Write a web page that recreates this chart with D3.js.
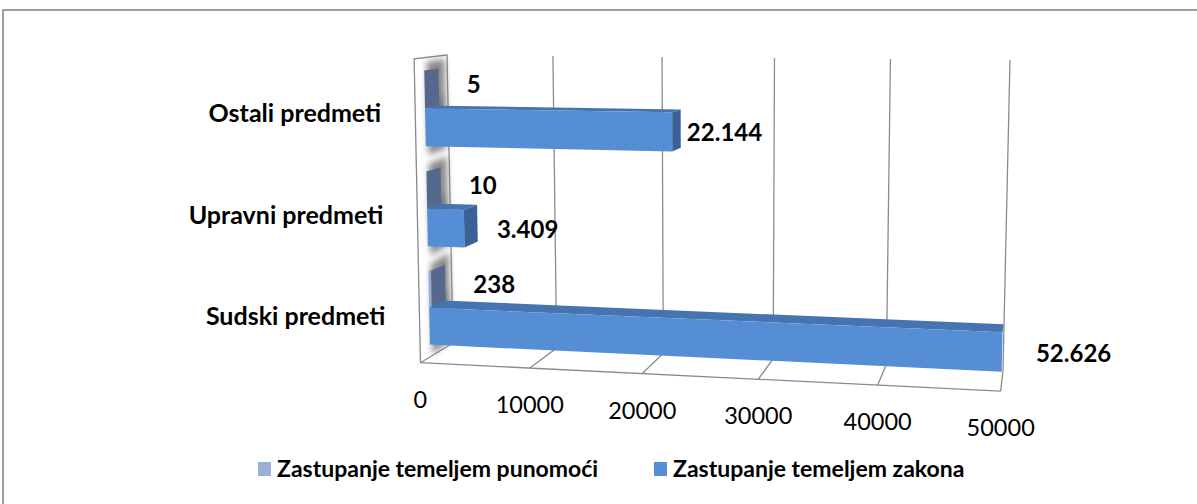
<!DOCTYPE html>
<html>
<head>
<meta charset="utf-8">
<script src="https://cdn.jsdelivr.net/npm/d3@7"></script>
<style>
  html, body { margin: 0; padding: 0; background: #ffffff; }
  svg { display: block; }
  text { font-family: "Lato", "Liberation Sans", sans-serif; fill: #000; }
</style>
</head>
<body>
<svg id="chart" width="1197" height="504"></svg>
<script>
// ---- data ----
const categories = ["Ostali predmeti", "Upravni predmeti", "Sudski predmeti"]; // top to bottom
const seriesNames = ["Zastupanje temeljem punomoći", "Zastupanje temeljem zakona"];
const punomociValues = [5, 10, 238];
const zakonaValues = [22144, 3409, 52626];
const valueTicks = [0, 10000, 20000, 30000, 40000, 50000];

// ---- styling ----
const seriesColors = {
  "Zastupanje temeljem punomoći": { front: "#97acd8", top: "#7e93bd", side: "#56688d", key: "#9bb0d8" },
  "Zastupanje temeljem zakona":   { front: "#558ed5", top: "#4674b0", side: "#3a6296", key: "#558ed5" }
};
const gridColor = "#8a8a8a";

const svg = d3.select("#chart");
const hr = d3.formatLocale({ decimal: ",", thousands: ".", grouping: [3], currency: ["", ""] });
const fmt = hr.format(",d");

// outer chart frame
svg.append("rect")
  .attr("x", 3).attr("y", 10).attr("width", 1300).attr("height", 600)
  .attr("fill", "#fff").attr("stroke", "#878787").attr("stroke-width", 1.6);

// ---- 3D plot box projection ----
// back wall quad (value axis along u, categories along v): TL, TR, BR, BL
const wall = [[447, 55], [1010, 60], [1003, 370], [453, 343]];
const vanish = [1045, -15];   // point the depth lines run towards
const depthGain = 0.055;      // screen growth from back (d=0) to front (d=1)

const homography = (() => {
  const [[x0, y0], [x1, y1], [x2, y2], [x3, y3]] = wall;
  const dx1 = x1 - x2, dx2 = x3 - x2, dx3 = x0 - x1 + x2 - x3;
  const dy1 = y1 - y2, dy2 = y3 - y2, dy3 = y0 - y1 + y2 - y3;
  const den = dx1 * dy2 - dx2 * dy1;
  const g = (dx3 * dy2 - dx2 * dy3) / den;
  const h = (dx1 * dy3 - dx3 * dy1) / den;
  const a = x1 - x0 + g * x1, b = x3 - x0 + h * x3, c = x0;
  const d = y1 - y0 + g * y1, e = y3 - y0 + h * y3, f = y0;
  return (u, v) => {
    const w = g * u + h * v + 1;
    return [(a * u + b * v + c) / w, (d * u + e * v + f) / w];
  };
})();

function project(u, v, d) {
  const [bx, by] = homography(u, v);
  const s = 1 + depthGain * d;
  return [vanish[0] + (bx - vanish[0]) * s, vanish[1] + (by - vanish[1]) * s];
}
const poly = pts => "M" + pts.map(p => p.join(",")).join("L") + "Z";

// scales
const x = d3.scaleLinear().domain([0, 50000]).range([0, 1]).clamp(true);
const y = d3.scaleBand().domain(categories).range([0, 1]).paddingInner(0.25).paddingOuter(0.125);
const ys = d3.scaleBand().domain(seriesNames).range([0, y.bandwidth()]);
const barBack = 0.27, barFront = 0.7;

const defs = svg.append("defs");
defs.append("filter").attr("id", "soft").attr("x", "-50%").attr("y", "-50%").attr("width", "200%").attr("height", "200%")
  .append("feGaussianBlur").attr("stdDeviation", 3.4);

const plot = svg.append("g");

// side wall at value 0
plot.append("path")
  .attr("d", poly([project(0, 0, 0), project(0, 0, 1), project(0, 1, 1), project(0, 1, 0)]))
  .attr("fill", "#fff").attr("stroke", gridColor).attr("stroke-width", 1.3);

// back wall gridlines and floor lines
valueTicks.filter(t => t > 0).forEach(t => {
  const u = x(t);
  plot.append("path")
    .attr("d", "M" + project(u, 0, 0) + "L" + project(u, 1, 0) + "L" + project(u, 1, 1))
    .attr("fill", "none").attr("stroke", gridColor).attr("stroke-width", 1.3);
});
// front floor edge
plot.append("path")
  .attr("d", "M" + project(0, 1, 1) + "L" + project(1, 1, 1))
  .attr("fill", "none").attr("stroke", gridColor).attr("stroke-width", 1.3);

// bar records
const bars = [];
categories.forEach((cat, i) => {
  [[seriesNames[0], punomociValues[i]], [seriesNames[1], zakonaValues[i]]].forEach(([s, val]) => {
    const v0 = y(cat) + ys(s), v1 = v0 + ys.bandwidth();
    bars.push({ cat, s, val, v0, v1, u1: x(val), clipped: val > x.domain()[1] });
  });
});

// soft shadows where the bars meet the side wall
plot.append("g").attr("filter", "url(#soft)")
  .selectAll("path").data(bars).join("path")
  .attr("d", b => poly([
    project(0, b.v0 - 0.03, barBack - 0.2), project(0.012, b.v0 - 0.03, barFront + 0.12),
    project(0.012, b.v1 + 0.025, barFront + 0.12), project(0, b.v1 + 0.025, barBack - 0.2)]))
  .attr("fill", "#767676").attr("opacity", 0.85);

// bars: top face, front face, end face
const barG = plot.append("g").selectAll("g").data(bars).join("g");
barG.append("path")
  .attr("d", b => poly([project(0, b.v0, barBack), project(b.u1, b.v0, barBack), project(b.u1, b.v0, barFront), project(0, b.v0, barFront)]))
  .attr("fill", b => seriesColors[b.s].top);
barG.append("path")
  .attr("d", b => poly([project(0, b.v0, barFront), project(b.u1, b.v0, barFront), project(b.u1, b.v1, barFront), project(0, b.v1, barFront)]))
  .attr("fill", b => seriesColors[b.s].front);
barG.filter(b => !b.clipped).append("path")
  .attr("d", b => poly([project(b.u1, b.v0, barBack), project(b.u1, b.v0, barFront), project(b.u1, b.v1, barFront), project(b.u1, b.v1, barBack)]))
  .attr("fill", b => seriesColors[b.s].side);

// value labels, outside the bar ends
const isSmall = b => b.s === seriesNames[0];
svg.append("g").selectAll("text").data(bars).join("text")
  .attr("x", b => {
    const vc = (b.v0 + b.v1) / 2;
    return project(b.u1, vc, barBack)[0] + (isSmall(b) ? 28 : -3 + 40 * vc);
  })
  .attr("y", b => {
    const vc = (b.v0 + b.v1) / 2;
    return project(b.u1, vc, barFront)[1] + (isSmall(b) ? -5 : 1) + 8.5;
  })
  .attr("font-size", 24).attr("font-weight", 700)
  .text(b => fmt(b.val));

// category labels
svg.append("g").selectAll("text").data(categories).join("text")
  .attr("x", c => project(0, y(c) + y.bandwidth() / 2, 1)[0] - 34)
  .attr("y", c => project(0, y(c) + y.bandwidth() / 2, 1)[1] + 12)
  .attr("text-anchor", "end")
  .attr("font-size", 25).attr("font-weight", 700)
  .text(c => c);

// value axis tick labels
svg.append("g").selectAll("text").data(valueTicks).join("text")
  .attr("x", t => project(x(t), 1, 1)[0])
  .attr("y", t => project(x(t), 1, 1)[1] + 45)
  .attr("text-anchor", "middle")
  .attr("font-size", 23.5)
  .text(t => String(t));

// legend
const legendX = [258, 654];
const legend = svg.append("g").selectAll("g").data(seriesNames).join("g")
  .attr("transform", (s, i) => `translate(${legendX[i]},462)`);
legend.append("rect").attr("width", 13).attr("height", 14).attr("fill", s => seriesColors[s].key);
legend.append("text").attr("x", 19).attr("y", 15)
  .attr("font-size", 23).attr("font-weight", 700)
  .text(s => s);
</script>
</body>
</html>
